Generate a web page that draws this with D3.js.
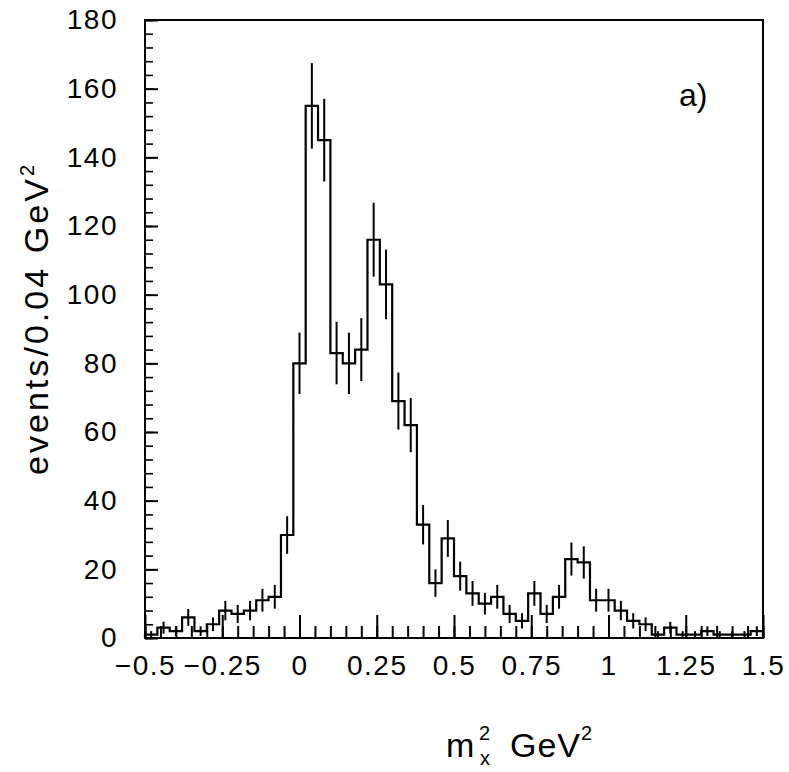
<!DOCTYPE html>
<html>
<head>
<meta charset="utf-8">
<script src="https://cdn.jsdelivr.net/npm/d3@7"></script>
<style>
  html, body { margin: 0; padding: 0; background: #fff; }
  svg { display: block; }
  text { font-family: "Liberation Sans", Arial, sans-serif; fill: #000; }
</style>
</head>
<body>
<script>
// Histogram of missing mass squared, 0.04 GeV^2 bins from -0.5 to 1.5
const binLow = -0.5;
const binWidth = 0.04;
const counts = [
  1, 3, 2, 6, 2, 4, 8, 7, 8, 11,
  12, 30, 80, 155, 145, 83, 80, 84, 116, 103,
  69, 62, 33, 16, 29, 18, 13, 10, 12, 7,
  5, 13, 7, 12, 23, 22, 11, 11, 8, 5,
  4, 1, 3, 1, 1, 2, 1, 1, 1, 2
];
const xTickValues = [-0.5, -0.25, 0, 0.25, 0.5, 0.75, 1, 1.25, 1.5];
const xTickLabels = ["\u22120.5", "\u22120.25", "0", "0.25", "0.5", "0.75", "1", "1.25", "1.5"];
const yTickValues = [0, 20, 40, 60, 80, 100, 120, 140, 160, 180];
const yTickLabels = ["0", "20", "40", "60", "80", "100", "120", "140", "160", "180"];
const panelLabel = "a)";

const W = 789, H = 772;
const m = { left: 145, right: 26, top: 20, bottom: 134 };

const svg = d3.select("body").append("svg").attr("width", W).attr("height", H);

const x = d3.scaleLinear().domain([-0.5, 1.5]).range([m.left, W - m.right]);
const y = d3.scaleLinear().domain([0, 180]).range([H - m.bottom, m.top]);

const bins = counts.map((c, i) => ({
  x0: binLow + i * binWidth,
  x1: binLow + (i + 1) * binWidth,
  n: c
}));

// step outline of the histogram
const pts = [[bins[0].x0, 0]];
bins.forEach(b => { pts.push([b.x0, b.n]); pts.push([b.x1, b.n]); });
pts.push([bins[bins.length - 1].x1, 0]);
const line = d3.line().x(d => x(d[0])).y(d => y(d[1]));

svg.append("path")
  .attr("d", line(pts))
  .attr("fill", "none")
  .attr("stroke", "#000")
  .attr("stroke-width", 2.2)
  .attr("stroke-linejoin", "miter");

// statistical error bars, sqrt(N)
svg.append("g").selectAll("line")
  .data(bins.filter(b => b.n > 0))
  .join("line")
  .attr("x1", b => x((b.x0 + b.x1) / 2))
  .attr("x2", b => x((b.x0 + b.x1) / 2))
  .attr("y1", b => y(b.n + Math.sqrt(b.n)))
  .attr("y2", b => y(Math.max(0, b.n - Math.sqrt(b.n))))
  .attr("stroke", "#000")
  .attr("stroke-width", 2);

// frame
svg.append("rect")
  .attr("x", x(-0.5)).attr("y", y(180))
  .attr("width", x(1.5) - x(-0.5)).attr("height", y(0) - y(180))
  .attr("fill", "none").attr("stroke", "#000").attr("stroke-width", 2);

// x axis: minor ticks every 0.05, major every 0.25, pointing inward
const xMinor = d3.range(-0.5, 1.5001, 0.05).map(v => +v.toFixed(2));
svg.append("g")
  .attr("transform", `translate(0,${y(0)})`)
  .call(d3.axisBottom(x).tickValues(xMinor).tickSize(-12).tickFormat(""))
  .call(g => g.select(".domain").remove())
  .call(g => g.selectAll("line").attr("stroke-width", 2));

const xAxis = svg.append("g")
  .attr("transform", `translate(0,${y(0)})`)
  .call(d3.axisBottom(x).tickValues(xTickValues).tickSize(-23).tickPadding(17)
    .tickFormat((d, i) => xTickLabels[i]));
xAxis.select(".domain").remove();
xAxis.selectAll("line").attr("stroke-width", 2);
xAxis.selectAll("text")
  .style("font-family", "'Liberation Sans', Arial, sans-serif")
  .attr("font-size", 28)
  .attr("letter-spacing", 1.5);

// y axis: minor ticks every 4, major every 20, pointing inward
const yMinor = d3.range(0, 180.001, 4);
svg.append("g")
  .attr("transform", `translate(${x(-0.5)},0)`)
  .call(d3.axisLeft(y).tickValues(yMinor).tickSize(-8).tickFormat(""))
  .call(g => g.select(".domain").remove())
  .call(g => g.selectAll("line").attr("stroke-width", 1.6));

const yAxis = svg.append("g")
  .attr("transform", `translate(${x(-0.5)},0)`)
  .call(d3.axisLeft(y).tickValues(yTickValues).tickSize(-13).tickPadding(27)
    .tickFormat((d, i) => yTickLabels[i]));
yAxis.select(".domain").remove();
yAxis.selectAll("line").attr("stroke-width", 2);
yAxis.selectAll("text")
  .style("font-family", "'Liberation Sans', Arial, sans-serif")
  .attr("font-size", 28)
  .attr("letter-spacing", 1.5);

// axis titles
const yt = svg.append("text")
  .attr("transform", `translate(48,320) rotate(-90)`)
  .attr("text-anchor", "middle")
  .attr("font-size", 34);
yt.append("tspan")
  .attr("textLength", 296)
  .attr("lengthAdjust", "spacing")
  .text("events/0.04 GeV");
yt.append("tspan").attr("font-size", 20).attr("dy", -14).text("2");

const xt = svg.append("g");
xt.append("text").attr("x", 446).attr("y", 757).attr("font-size", 34).text("m");
xt.append("text").attr("x", 479).attr("y", 740).attr("font-size", 20).text("2");
xt.append("text").attr("x", 480).attr("y", 765).attr("font-size", 20).text("x");
xt.append("text").attr("x", 510).attr("y", 757).attr("font-size", 34)
  .attr("textLength", 70).attr("lengthAdjust", "spacing").text("GeV");
xt.append("text").attr("x", 581).attr("y", 740).attr("font-size", 20).text("2");

// panel label
svg.append("text")
  .attr("x", 679).attr("y", 106)
  .attr("font-size", 32)
  .text(panelLabel);
</script>
</body>
</html>
